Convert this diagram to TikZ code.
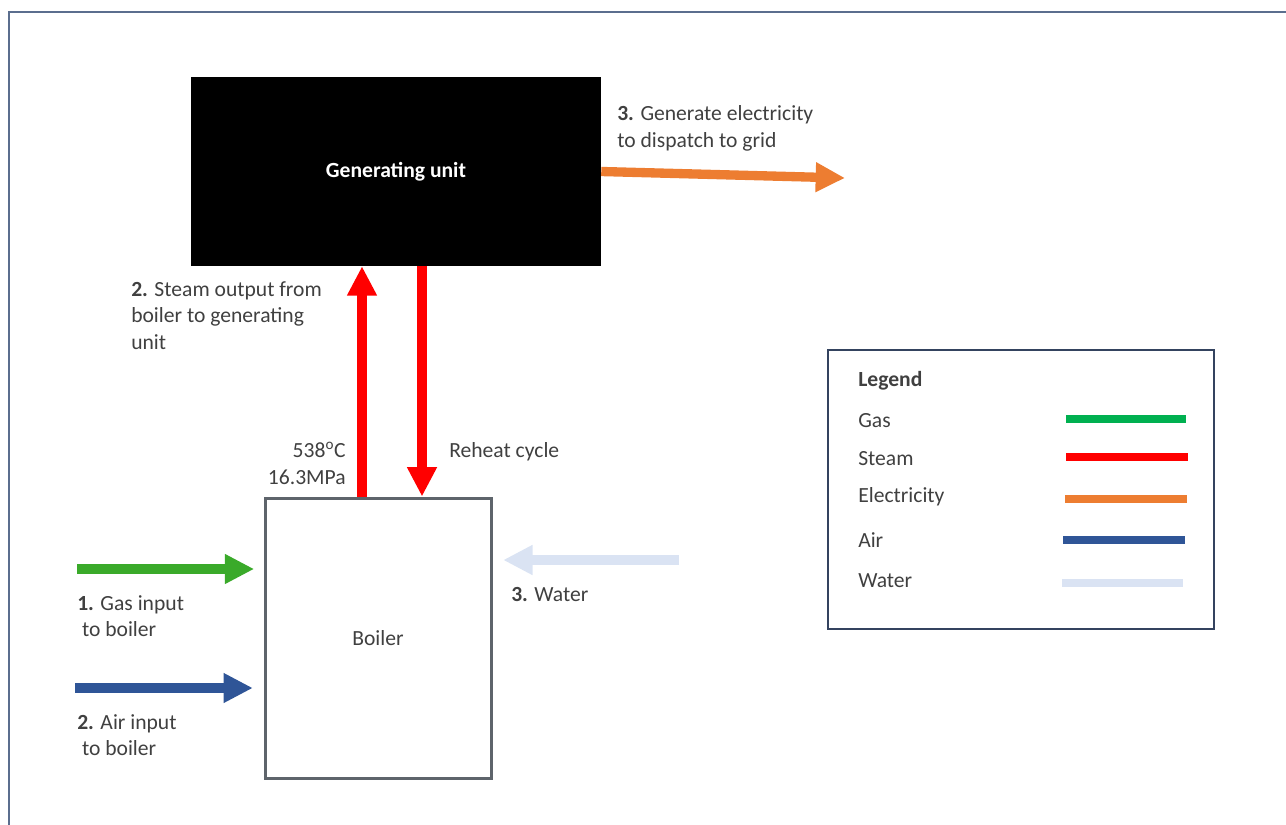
\documentclass[tikz,border=0pt]{standalone}
\usepackage{fontspec}
\setmainfont{Carlito}
\usetikzlibrary{arrows.meta}
\definecolor{steamred}{HTML}{FF0000}
\definecolor{elecorange}{HTML}{ED7D31}
\definecolor{gasgreen}{HTML}{3AAA2A}
\definecolor{keygreen}{HTML}{00B050}
\definecolor{airblue}{HTML}{2F5597}
\definecolor{waterblue}{HTML}{DAE3F3}
\definecolor{textgrey}{HTML}{404040}
\definecolor{boxgrey}{HTML}{5E646B}
\definecolor{framegrey}{HTML}{5B6E8E}
\definecolor{keyframe}{HTML}{34435F}

\begin{document}
\begin{tikzpicture}[x=0.75pt, y=-0.75pt,
    flow/.style={line width=7pt, -{Triangle[width=21pt, length=22pt]}},
    txt/.style={anchor=west, align=left, text=textgrey, inner sep=0pt,
                font=\fontsize{16.2}{20}\selectfont},
    keyline/.style={line width=6.5pt}]
    \useasboundingbox (0,0) rectangle (1286,825);
    \draw[framegrey, line width=1.5pt] (9,830) -- (9,12) -- (1295,12);

    % units
    \node (gen) [fill=black, minimum width=307.5pt, minimum height=141.75pt, inner sep=0pt,
        text=white, font=\fontsize{16.2}{20}\selectfont\bfseries] at (396,171.5) {Generating unit};
    \node (boiler) [draw=boxgrey, line width=2.25pt, minimum width=169.5pt, minimum height=210pt,
        text=textgrey, font=\fontsize{16.2}{20}\selectfont] at (378,638) {Boiler};

    % end points of the flows
    \coordinate (upx) at (362,0);
    \coordinate (downx) at (422,0);
    \coordinate (grid) at (845,178);
    \coordinate (gasin) at (77,569);
    \coordinate (airin) at (75,688);
    \coordinate (waterin) at (679,560);

    % flows
    \draw[flow, steamred] (boiler.north -| upx) -- (gen.south -| upx);
    \draw[flow, steamred] (gen.south -| downx) -- (boiler.north -| downx);
    \draw[flow, elecorange] (gen.east) -- (grid);
    \draw[flow, gasgreen, shorten >=7pt] (gasin) -- (gasin -| boiler.west);
    \draw[flow, airblue, shorten >=8pt] (airin) -- (airin -| boiler.west);
    \draw[flow, waterblue, shorten >=8pt] (waterin) -- (waterin -| boiler.east);

    % labels
    \node (elec) [txt] at (617,128.5) {\textbf{3.} Generate electricity\\to dispatch to grid};
    \node (steam) [txt] at (131,315.5) {\textbf{2.} Steam output from\\boiler to generating\\unit};
    \node (cond) [txt, anchor=east, align=right] at (346,463) {538\textsuperscript{o}C\\16.3MPa};
    \node (reheat) [txt] at (449,452) {Reheat cycle};
    \node (gas) [txt] at (77,616) {\textbf{1.} Gas input\\\hspace{0.22em}to boiler};
    \node (air) [txt] at (77,735) {\textbf{2.} Air input\\\hspace{0.22em}to boiler};
    \node (water) [txt] at (511,594) {\textbf{3.} Water};

    % legend
    \node (legend) [draw=keyframe, line width=1.2pt, minimum width=289.5pt, minimum height=209.25pt]
        at (1021,489.5) {};
    \node (legendtitle) [txt, font=\fontsize{16.2}{20}\selectfont\bfseries] at (858,381) {Legend};
    \foreach \name/\col/\ty/\ly/\xa/\xb in {Gas/keygreen/421/419/1066/1186,
            Steam/steamred/459/457/1066/1188, Electricity/elecorange/497/499/1065/1187,
            Air/airblue/540/540/1063/1185, Water/waterblue/581/583/1062/1183}{
        \node [txt] at (858,\ty) {\name};
        \draw[keyline, \col] (\xa,\ly) -- (\xb,\ly);
    }
\end{tikzpicture}
\end{document}
